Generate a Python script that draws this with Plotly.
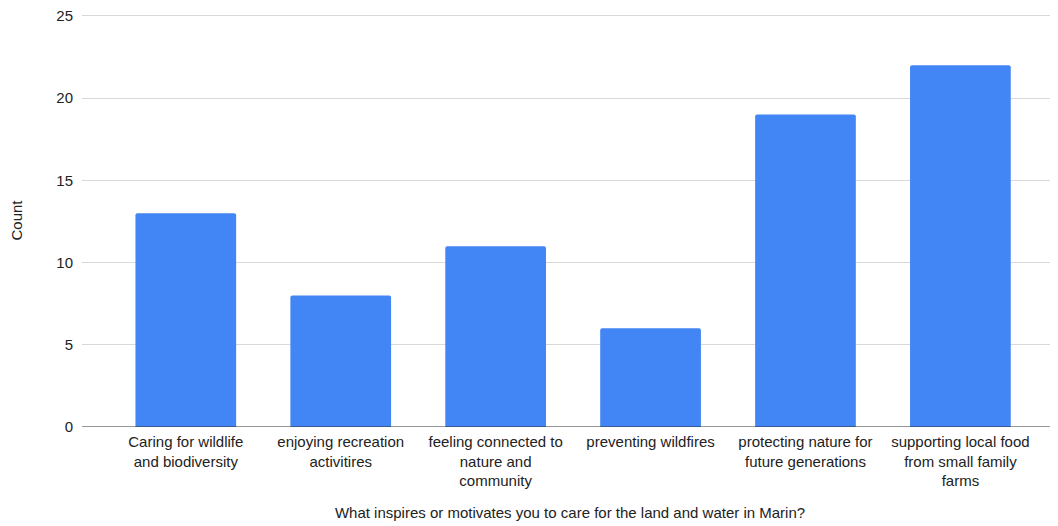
import plotly.graph_objects as go

categories = [
    "Caring for wildlife<br>and biodiversity",
    "enjoying recreation<br>activitires",
    "feeling connected to<br>nature and<br>community",
    "preventing wildfires",
    "protecting nature for<br>future generations",
    "supporting local food<br>from small family<br>farms",
]
counts = [13, 8, 11, 6, 19, 22]
y_ticks = [0, 5, 10, 15, 20, 25]

fig = go.Figure(go.Bar(
    x=list(range(len(categories))),
    y=counts,
    marker=dict(color="#4285F4", cornerradius=2, line=dict(width=0)),
    width=0.65,
))

# page body has an 8px margin, so offsets compensate for it
fig.update_layout(
    width=1058, height=526,
    margin=dict(l=74, r=8, t=6, b=107, autoexpand=False),
    paper_bgcolor="white", plot_bgcolor="white",
    font=dict(family="Liberation Sans, Arial, sans-serif", size=15, color="#222222"),
    showlegend=False,
    xaxis=dict(
        range=[-0.67, 5.63],
        tickmode="array",
        tickvals=list(range(len(categories))),
        ticktext=categories,
        tickangle=0,
        showgrid=False,
        ticks="",
        showline=False,
        zeroline=False,
        automargin=False,
        ticklabelstandoff=4,
        title=dict(text="What inspires or motivates you to care for the land and water in Marin?",
                   font=dict(size=15, color="#222222"), standoff=19),
    ),
    yaxis=dict(
        range=[0, 25.12],
        tickmode="array",
        tickvals=y_ticks,
        showgrid=True,
        gridcolor="#d9d9d9",
        gridwidth=1,
        zeroline=False,
        ticks="",
        automargin=False,
        ticklabelstandoff=8,
        ticklabeloverflow="allow",
        title=dict(text="Count", font=dict(size=15, color="#222222"), standoff=30),
    ),
)

fig.add_shape(type="line", xref="paper", yref="y", x0=0, x1=1, y0=0, y1=0,
              line=dict(color="#333333", width=1))

fig.write_html("out.html")
